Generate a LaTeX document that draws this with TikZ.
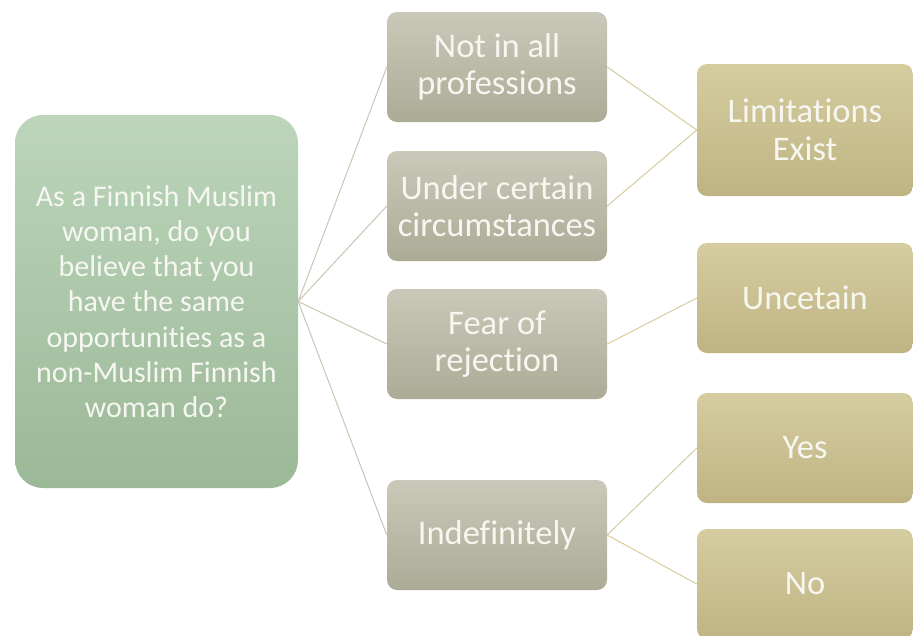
\documentclass[tikz,border=0pt]{standalone}
\usepackage{fontspec}
\setmainfont{Carlito}[Ligatures=NoCommon]
\definecolor{rootTop}{HTML}{BCD5BB}
\definecolor{rootBot}{HTML}{9BB897}
\definecolor{midTop}{HTML}{CAC9B9}
\definecolor{midBot}{HTML}{ACAB96}
\definecolor{endTop}{HTML}{D5CDA0}
\definecolor{endBot}{HTML}{BFB382}
\definecolor{linkGray}{HTML}{C8C6B2}
\definecolor{linkTan}{HTML}{D6CC9E}
\definecolor{labelWhite}{HTML}{F7F7F2}
\begin{document}
\begin{tikzpicture}[x=1pt,y=-1pt,
  box/.style={text=labelWhite, align=center, inner sep=0pt,
    font=\fontsize{34.5}{37.5}\selectfont},
  rootbox/.style={box, rounded corners=28pt, top color=rootTop, bottom color=rootBot,
    minimum width=283pt, minimum height=373pt, font=\fontsize{30}{35.2}\selectfont},
  midbox/.style={box, rounded corners=10pt, top color=midTop, bottom color=midBot,
    minimum width=220pt, minimum height=110pt},
  endbox/.style={box, rounded corners=10pt, top color=endTop, bottom color=endBot,
    minimum width=216pt},
  rootlink/.style={draw=linkGray, line width=1pt},
  endlink/.style={draw=linkTan, line width=1pt}
]
\useasboundingbox (0,0) rectangle (913,635);

% question
\node[rootbox] (q) at (156.5,301.5) {As a Finnish Muslim\\woman, do you\\believe that you\\have the same\\opportunities as a\\non-Muslim Finnish\\woman do?};

% first-level answers
\node[midbox] (a1) at (497,67) {Not in all\\professions};
\node[midbox] (a2) at (497,206) {Under certain\\circumstances};
\node[midbox] (a3) at (497,344) {Fear of\\rejection};
\node[midbox] (a4) at (497,535) {Indefinitely};

% conclusions
\node[endbox, minimum height=132pt] (c1) at (805,130) {Limitations\\Exist};
\node[endbox, minimum height=110pt] (c2) at (805,298) {Uncetain};
\node[endbox, minimum height=110pt] (c3) at (805,448) {Yes};
\node[endbox, minimum height=110pt] (c4) at (805,584) {No};

% links
\foreach \a in {a1,a2,a3,a4} \draw[rootlink] (q.east) -- (\a.west);
\draw[endlink] (a1.east) -- (c1.west);
\draw[endlink] (a2.east) -- (c1.west);
\draw[endlink] (a3.east) -- (c2.west);
\draw[endlink] (a4.east) -- (c3.west);
\draw[endlink] (a4.east) -- (c4.west);
\end{tikzpicture}
\end{document}
